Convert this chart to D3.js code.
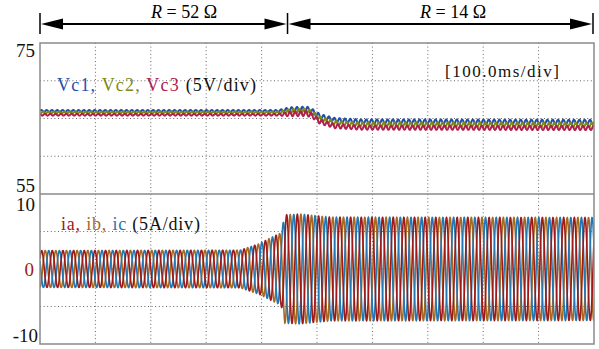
<!DOCTYPE html>
<html>
<head>
<meta charset="utf-8">
<script src="https://cdn.jsdelivr.net/npm/d3@7"></script>
<style>
  body { margin: 0; background: #fff; }
  svg text { font-family: "Liberation Serif", "Times New Roman", Tinos, "DejaVu Serif", serif; }
</style>
</head>
<body>
<svg id="scope"></svg>
<script>
const width = 599;
const height = 349;

// time axis: 10 divisions of 100 ms
const timeGrid = [0, 0.1, 0.2, 0.3, 0.4, 0.5, 0.6, 0.7, 0.8, 0.9, 1.0];
const voltGrid = [55, 60, 65, 70, 75];
const currGrid = [-10, -5, 0, 5, 10];
const voltLabels = ["75", "55"];
const currLabels = ["10", "0", "-10"];

// load step marks (seconds)
const loadBounds = [0, 0.445, 1.0];
const loadNames = ["52", "14"];

// DC-link voltages, key points (s, V)
const vTime = [0, 0.430, 0.452, 0.482, 0.491, 0.505, 0.532, 0.578, 1.0];
const vc1 = [66.0, 66.0, 66.2, 66.25, 66.0, 65.3, 64.8, 64.6, 64.55];
const vc2 = [65.8, 65.8, 65.95, 66.0, 65.75, 64.95, 64.4, 64.2, 64.15];
const vc3 = [65.5, 65.5, 65.6, 65.65, 65.4, 64.6, 64.0, 63.8, 63.75];
const vRipple = [0.12, 0.12, 0.3, 0.32, 0.3, 0.3, 0.28, 0.28, 0.28];

// phase current amplitude envelope (s, A)
const iTime = [0, 0.361, 0.397, 0.415, 0.435, 0.442, 0.469, 0.523, 1.0];
const iAmp = [2.45, 2.5, 3.4, 4.1, 4.8, 7.2, 7.3, 6.9, 6.85];
const lineFreq = 52; // Hz, counted from the cycles per division

const voltColors = ["#1f4fae", "#7f8a12", "#b0204c"];
const currColors = ["#9c1a1a", "#a8681f", "#2277b2"];

const svg = d3.select("#scope").attr("width", width).attr("height", height);

const x = d3.scaleLinear().domain([0, 1]).range([40, 594]);
const yV = d3.scaleLinear().domain([55, 75]).range([194, 43]);
const yI = d3.scaleLinear().domain([-10, 10]).range([344, 194]);

// envelopes through scales
const ampAt = d3.scaleLinear().domain(iTime).range(iAmp);
const rippleAt = d3.scaleLinear().domain(vTime).range(vRipple);
const vLevel = [vc1, vc2, vc3].map(v => d3.scaleLinear().domain(vTime).range(v));

const samples = d3.range(0, 1.00001, 1 / 4000);

// clip regions
const defs = svg.append("defs");
defs.append("clipPath").attr("id", "clipV").append("rect")
  .attr("x", 40).attr("y", 43).attr("width", 554).attr("height", 151);
defs.append("clipPath").attr("id", "clipI").append("rect")
  .attr("x", 40).attr("y", 194).attr("width", 554).attr("height", 150);

// grid
const grid = svg.append("g").attr("stroke", "#666").attr("stroke-width", 1)
  .attr("stroke-dasharray", "1,2.6");
grid.selectAll(".vx")
  .data(timeGrid.slice(1, -1))
  .join("line")
  .attr("x1", d => x(d)).attr("x2", d => x(d))
  .attr("y1", 43).attr("y2", 344);
grid.selectAll(".hv")
  .data(voltGrid.slice(1, -1))
  .join("line").attr("class", "hv")
  .attr("x1", 40).attr("x2", 594)
  .attr("y1", d => yV(d)).attr("y2", d => yV(d));
grid.selectAll(".hi")
  .data(currGrid.slice(1, -1))
  .join("line").attr("class", "hi")
  .attr("x1", 40).attr("x2", 594)
  .attr("y1", d => yI(d)).attr("y2", d => yI(d));

// currents
const lineI = d3.line().x(d => x(d[0])).y(d => yI(d[1]));
const phases = [0, -2 * Math.PI / 3, 2 * Math.PI / 3];
const currOrder = [1, 2, 0];
svg.append("g").attr("clip-path", "url(#clipI)")
  .selectAll("path")
  .data(currOrder)
  .join("path")
  .attr("fill", "none")
  .attr("stroke", k => currColors[k])
  .attr("stroke-width", 1.6)
  .attr("d", k => lineI(samples.map(t =>
    [t, ampAt(t) * Math.sin(2 * Math.PI * lineFreq * t + phases[k] + 0.6)])));

// voltages
const lineV = d3.line().x(d => x(d[0])).y(d => yV(d[1]));
svg.append("g").attr("clip-path", "url(#clipV)")
  .selectAll("path")
  .data([0, 1, 2])
  .join("path")
  .attr("fill", "none")
  .attr("stroke", k => voltColors[k])
  .attr("stroke-width", 2)
  .attr("d", k => lineV(samples.map(t =>
    [t, vLevel[k](t) + rippleAt(t) * Math.sin(2 * Math.PI * 2 * lineFreq * t + phases[k])])));

// frame
svg.append("rect")
  .attr("x", 40).attr("y", 43).attr("width", 554).attr("height", 301)
  .attr("fill", "none").attr("stroke", "#8a8a8a").attr("stroke-width", 1.5);
svg.append("line")
  .attr("x1", 40).attr("x2", 594).attr("y1", 194).attr("y2", 194)
  .attr("stroke", "#8a8a8a").attr("stroke-width", 1.5);

// axis labels
const lab = (tx, ty, s, fill) => svg.append("text")
  .attr("x", tx).attr("y", ty).attr("text-anchor", "end")
  .attr("font-size", 19).attr("fill", fill || "#111").text(s);
lab(35, 57, voltLabels[0]);
lab(35, 192, voltLabels[1]);
lab(35, 211, currLabels[0]);
lab(34, 276, currLabels[1], "#9c1a1a");
lab(38, 342, currLabels[2]);

// legends
const legV = svg.append("text").attr("x", 57).attr("y", 91)
  .attr("font-size", 18).attr("letter-spacing", 1.2);
legV.append("tspan").attr("fill", voltColors[0]).text("Vc1, ");
legV.append("tspan").attr("fill", voltColors[1]).text("Vc2, ");
legV.append("tspan").attr("fill", voltColors[2]).text("Vc3 ");
legV.append("tspan").attr("fill", "#111").text("(5V/div)");

const legI = svg.append("text").attr("x", 61).attr("y", 230)
  .attr("font-size", 18).attr("letter-spacing", 0.8);
legI.append("tspan").attr("fill", currColors[0]).text("ia, ");
legI.append("tspan").attr("fill", currColors[1]).text("ib, ");
legI.append("tspan").attr("fill", currColors[2]).text("ic ");
legI.append("tspan").attr("fill", "#111").text("(5A/div)");

svg.append("text").attr("x", 445).attr("y", 77).attr("font-size", 17)
  .attr("letter-spacing", 1.5).attr("fill", "#111").text("[100.0ms/div]");

// load arrows
const ay = 24;
const arrows = svg.append("g");
const ends = [x(loadBounds[0]), x(loadBounds[1]) + 1, x(loadBounds[2]) - 1];
arrows.selectAll(".bar")
  .data(ends)
  .join("line").attr("class", "bar")
  .attr("x1", d => d).attr("x2", d => d)
  .attr("y1", 13).attr("y2", 34)
  .attr("stroke", "#000").attr("stroke-width", 1.5);

loadNames.forEach((name, i) => {
  const a = ends[i] + 1, b = ends[i + 1] - 1;
  arrows.append("line")
    .attr("x1", a + 10).attr("x2", b - 10).attr("y1", ay).attr("y2", ay)
    .attr("stroke", "#000").attr("stroke-width", 2);
  arrows.append("path")
    .attr("d", `M${a},${ay} L${a + 22},${ay - 5.5} L${a + 22},${ay + 5.5} Z`);
  arrows.append("path")
    .attr("d", `M${b},${ay} L${b - 22},${ay - 5.5} L${b - 22},${ay + 5.5} Z`);
  const t = arrows.append("text")
    .attr("x", i === 0 ? 184 : 453).attr("y", 18)
    .attr("text-anchor", "middle").attr("font-size", 18);
  t.append("tspan").attr("font-style", "italic").text("R");
  t.append("tspan").text(` = ${name} Ω`);
});
</script>
</body>
</html>
